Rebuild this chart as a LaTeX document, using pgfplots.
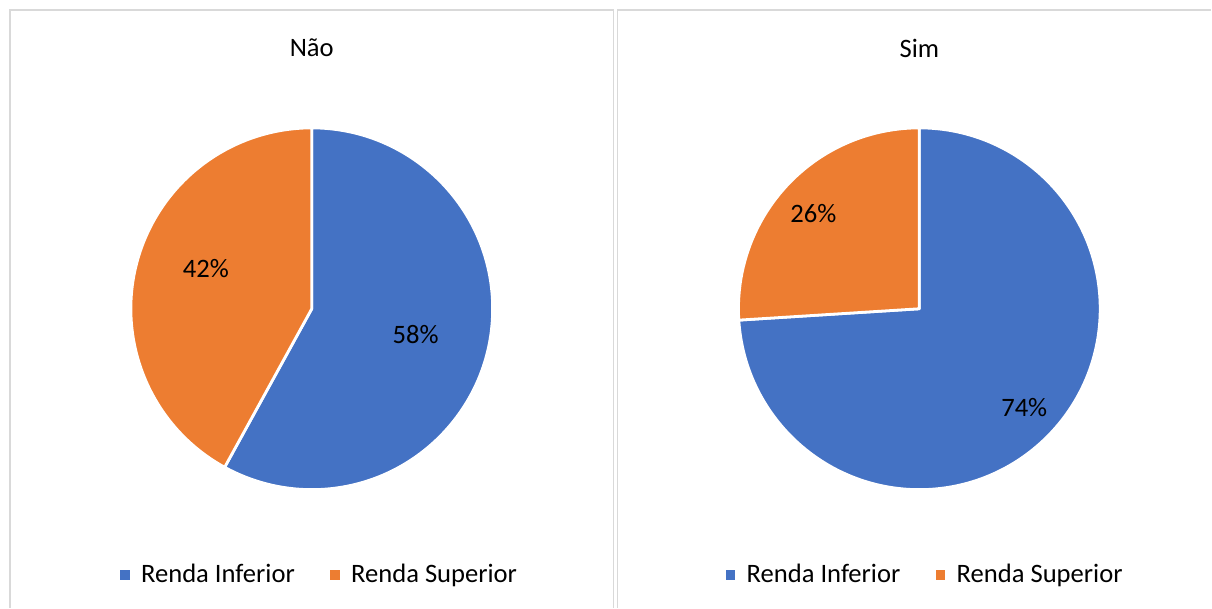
\documentclass[border=0pt]{standalone}
\usepackage{pgfplots}
\pgfplotsset{compat=1.18}
\usepackage{fontspec}
\setmainfont{Carlito}
\definecolor{cblue}{HTML}{4472C4}
\definecolor{corange}{HTML}{ED7D31}
\definecolor{cframe}{HTML}{D9D9D9}
% values (percent): Renda Inferior, Renda Superior
\def\naoInf{58}\def\naoSup{42}
\def\simInf{74}\def\simSup{26}
\pgfmathsetmacro{\naoAng}{90-3.6*\naoInf}
\pgfmathsetmacro{\simAng}{90-3.6*\simInf}
\newcommand{\chartfont}{\fontsize{13.3}{16}\selectfont}
\pgfplotsset{
  piechart/.style={
    hide axis, clip=false, x=0.5pt, y=0.5pt, ymin=-299, ymax=309,
    legend style={anchor=center, draw=none, fill=none, legend columns=2,
      font=\chartfont,
      /tikz/every odd column/.append style={column sep=4pt},
      /tikz/every even column/.append style={column sep=16pt}},
    legend cell align=left,
  },
}
\begin{document}
\begin{tikzpicture}
% ---------- Não ----------
\begin{axis}[piechart, at={(0pt,0pt)}, anchor=south west, xmin=-312, xmax=302,
  legend style={at={(0.523,0.054)}}]
\addlegendimage{only marks, mark=square*, mark size=2.1pt, color=cblue}
\addlegendentry{Renda Inferior}
\addlegendimage{only marks, mark=square*, mark size=2.1pt, color=corange}
\addlegendentry{Renda Superior}
\path (axis cs:-312,-299) rectangle (axis cs:302,309);
\draw[cframe, line width=0.9pt] (axis cs:-302,-299) -- (axis cs:-302,299) -- (axis cs:302,299) -- (axis cs:302,-299);
\filldraw[fill=cblue, draw=white, line width=1.4pt, line join=round] (axis cs:0,0) -- (axis cs:0,181) arc[start angle=90, end angle=\naoAng, radius=90.5pt] -- cycle;
\filldraw[fill=corange, draw=white, line width=1.4pt, line join=round] (axis cs:0,0) -- (axis cs:{181*cos(\naoAng)},{181*sin(\naoAng)}) arc[start angle=\naoAng, end angle=-270, radius=90.5pt] -- cycle;
\node[font=\chartfont] at (axis cs:0,261) {Não};
\node[font=\chartfont] at (axis cs:104,-26) {\naoInf\%};
\node[font=\chartfont] at (axis cs:-106,40) {\naoSup\%};
\end{axis}
% ---------- Sim ----------
\begin{axis}[piechart, at={(308pt,0pt)}, anchor=south west, xmin=-304, xmax=292,
  legend style={at={(0.522,0.054)}}]
\addlegendimage{only marks, mark=square*, mark size=2.1pt, color=cblue}
\addlegendentry{Renda Inferior}
\addlegendimage{only marks, mark=square*, mark size=2.1pt, color=corange}
\addlegendentry{Renda Superior}
\path (axis cs:-304,-299) rectangle (axis cs:292,309);
\draw[cframe, line width=0.9pt] (axis cs:-302,-299) -- (axis cs:-302,299) -- (axis cs:292,299);
\filldraw[fill=cblue, draw=white, line width=1.4pt, line join=round] (axis cs:0,0) -- (axis cs:0,181) arc[start angle=90, end angle=\simAng, radius=90.5pt] -- cycle;
\filldraw[fill=corange, draw=white, line width=1.4pt, line join=round] (axis cs:0,0) -- (axis cs:{181*cos(\simAng)},{181*sin(\simAng)}) arc[start angle=\simAng, end angle=-270, radius=90.5pt] -- cycle;
\node[font=\chartfont] at (axis cs:0,261) {Sim};
\node[font=\chartfont] at (axis cs:105,-99) {\simInf\%};
\node[font=\chartfont] at (axis cs:-106,95) {\simSup\%};
\end{axis}
\end{tikzpicture}
\end{document}
